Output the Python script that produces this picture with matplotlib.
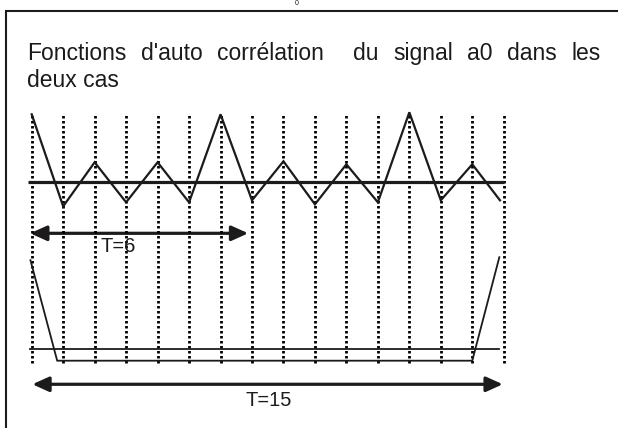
import matplotlib.pyplot as plt
from matplotlib.patches import Rectangle, FancyArrowPatch

# ---- data ----
# upper curve: autocorrelation of a0, period 6
lags_6 = [0, 1, 2, 3, 4, 5, 6, 7, 8, 9, 10, 11, 12, 13, 14, 14.88]
corr_6 = [3.4, -1.2, 1.0, -1.0, 1.0, -1.0, 3.4, -0.9, 1.05, -1.1, 0.9, -1.0, 3.5, -0.9, 0.9, -0.9]
# lower curve: autocorrelation of a0, period 15
lags_15 = [-0.04, 0.81, 14.0, 14.86]
corr_15 = [14.8, -1.95, -1.95, 15.3]
grid_lags = list(range(16))

title_line1 = ["Fonctions", "d'auto", "corrélation", "du", "signal", "a0", "dans", "les"]
title_gaps = [1, 1, 2, 1, 1, 1, 1]   # number of spaces between words (justified line)
title_line2 = "deux cas"
label_6 = "T=6"
label_15 = "T=15"

W, H = 618, 428
ink = '#1c1a1b'
font = 'Liberation Sans'

fig = plt.figure(figsize=(W / 100, H / 100), dpi=100)

def fx(px):
    return px / W

def fy(py):
    return 1 - py / H

# x axis: lag 0 at 31.7 px, 31.47 px per lag
xlim = (-31.7 / 31.47, (W - 31.7) / 31.47)

ax1 = fig.add_axes([0, 0, 1, 1])
ax1.set_xlim(*xlim)
ax1.set_ylim(-(H - 182.3) / 20, 182.3 / 20)
ax1.axis('off')

ax2 = fig.add_axes([0, 0, 1, 1])
ax2.set_xlim(*xlim)
ax2.set_ylim(-(H - 349) / 6, 349 / 6)
ax2.axis('off')
ax2.patch.set_alpha(0)

# frame around the figure (runs off the right and bottom edges)
fig.patches.append(Rectangle((fx(5.7), -0.1), 1.2, fy(11) + 0.1, transform=fig.transFigure,
                             fill=False, lw=1.5, ec=ink))

# small character at the top edge
fig.text(fx(297), fy(0), "0", fontsize=5, family=font, color=ink, ha='center', va='top')

# dotted vertical grid
for g in grid_lags:
    ax1.axvline(g, ymin=fy(363), ymax=fy(113), color='black', lw=2.0, ls=(0, (0.9, 0.9)))

# upper curve
ax1.plot([-0.117, 15], [0, 0], color=ink, lw=2.3, solid_capstyle='butt')
ax1.plot(lags_6, corr_6, color=ink, lw=1.6, solid_joinstyle='miter')

# lower curve
ax2.plot([-0.04, 14.85], [0, 0], color=ink, lw=1.3)
ax2.plot(lags_15, corr_15, color=ink, lw=1.3, solid_joinstyle='miter')

# period arrows
arrow_style = '<|-|>,head_length=1.0,head_width=0.45'
ax1.add_patch(FancyArrowPatch((-0.05, -2.55), (6.88, -2.55), arrowstyle=arrow_style,
                              mutation_scale=10, lw=2.3, color=ink, shrinkA=0, shrinkB=0))
ax2.add_patch(FancyArrowPatch((0.02, -5.88), (14.97, -5.88), arrowstyle=arrow_style,
                              mutation_scale=10, lw=2.3, color=ink, shrinkA=0, shrinkB=0))
ax1.text(2.2, -3.47, label_6, fontsize=14.5, family=font, color=ink, ha='left', va='baseline')
ax2.text(6.78, -9.45, label_15, fontsize=14.5, family=font, color=ink, ha='left', va='baseline')

# title, first line justified between 27 px and 601 px
renderer = fig.canvas.get_renderer()
words = [fig.text(0, fy(60), w, fontsize=16.5, family=font, color=ink, va='baseline')
         for w in title_line1]
widths = [t.get_window_extent(renderer).width for t in words]
space = (601 - 27 - sum(widths)) / sum(title_gaps)
x = 27
for i, t in enumerate(words):
    t.set_x(fx(x))
    x += widths[i]
    if i < len(title_gaps):
        x += space * title_gaps[i]
fig.text(fx(27), fy(87.3), title_line2, fontsize=16.5, family=font, color=ink, va='baseline')

fig.savefig('out.png', dpi=100)
